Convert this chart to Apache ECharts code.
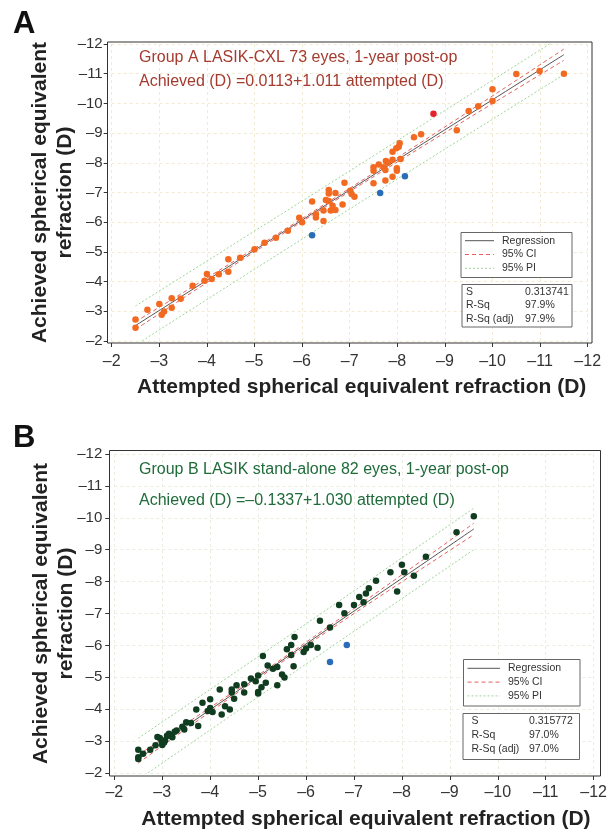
<!DOCTYPE html>
<html><head><meta charset="utf-8">
<script src="https://cdn.jsdelivr.net/npm/echarts@6/dist/echarts.min.js"></script>
<style>html,body{margin:0;padding:0;background:#fff}#c{width:610px;height:831px}</style>
</head><body><div id="c"></div>
<script>
// ---------- DATA ----------
const tickValues = [-2,-3,-4,-5,-6,-7,-8,-9,-10,-11,-12];

// Panel A (LASIK-CXL)
const A_main = [[-2.50,-2.72],[-2.50,-2.45],[-2.75,-3.05],[-3.00,-3.25],[-3.05,-2.88],[-3.10,-2.99],
 [-3.26,-3.44],[-3.26,-3.12],[-3.45,-3.42],[-3.70,-3.86],[-3.95,-4.03],[-4.00,-4.26],[-4.10,-4.09],
 [-4.25,-4.25],[-4.45,-4.75],[-4.45,-4.33],[-4.70,-4.80],[-5.00,-5.09],[-5.21,-5.31],[-5.45,-5.48],
 [-5.70,-5.71],[-5.94,-6.15],[-6.00,-6.00],[-6.21,-6.70],[-6.29,-6.27],[-6.29,-6.16],[-6.45,-6.39],
 [-6.45,-6.04],[-6.56,-7.08],[-6.56,-6.97],[-6.56,-6.71],[-6.60,-6.39],[-6.64,-6.55],[-6.70,-6.98],
 [-6.70,-6.41],[-6.89,-7.33],[-7.01,-7.06],[-7.04,-6.95],[-7.10,-6.86],[-6.85,-6.60],[-7.50,-7.85],
 [-7.50,-7.73],[-7.50,-7.31],[-7.61,-7.94],[-7.71,-7.85],[-7.75,-7.76],[-7.76,-8.06],[-7.80,-8.00],
 [-7.75,-7.40],[-7.90,-8.10],[-7.90,-8.37],[-7.90,-7.53],[-7.99,-7.82],[-7.99,-7.73],[-7.98,-8.49],
 [-8.03,-8.54],[-8.05,-8.66],[-8.07,-8.13],[-8.35,-8.86],[-8.50,-8.96],[-9.25,-9.10],[-9.50,-9.74],
 [-9.70,-9.90],[-10.00,-10.08],[-10.00,-10.48],[-10.50,-10.99],[-10.99,-11.09],[-11.50,-11.00],
 [-6.50,-6.75]];
const A_red  = [[-8.76,-9.65]];
const A_blue = [[-6.21,-5.56],[-7.64,-6.98],[-8.16,-7.55]];
const A_reg  = [[-2.5,-2.52],[-6.5,-6.58],[-11.5,-11.64]];
const A_ciHi = [[-2.5,-2.65],[-6.5,-6.63],[-11.5,-11.83]];
const A_ciLo = [[-2.5,-2.39],[-6.5,-6.53],[-11.5,-11.45]];
const A_piHi = [[-2.5,-3.18],[-6.5,-7.22],[-11.5,-12.31]];
const A_piLo = [[-2.5,-1.86],[-6.5,-5.94],[-11.5,-10.97]];
const A_text = ['Group A LASIK-CXL 73 eyes, 1-year post-op','Achieved (D) =0.0113+1.011 attempted (D)'];
const A_stats = [['S','0.313741'],['R-Sq','97.9%'],['R-Sq (adj)','97.9%']];

// Panel B (LASIK stand-alone)
const B_main = [[-2.50,-2.73],[-2.50,-2.49],[-2.50,-2.44],[-2.60,-2.60],[-2.75,-2.73],[-2.86,-2.87],
 [-2.90,-3.13],[-2.95,-3.10],[-2.99,-2.99],[-3.00,-2.88],[-3.04,-2.96],[-3.06,-3.03],[-3.10,-3.17],
 [-3.14,-3.23],[-3.17,-3.17],[-3.21,-3.12],[-3.26,-3.29],[-3.30,-3.33],[-3.42,-3.45],[-3.46,-3.36],
 [-3.50,-3.59],[-3.60,-3.57],[-3.71,-3.99],[-3.75,-3.47],[-3.84,-4.20],[-3.95,-3.94],[-4.00,-4.31],
 [-4.00,-4.04],[-4.05,-3.91],[-4.20,-4.62],[-4.24,-3.83],[-4.31,-4.09],[-4.41,-3.99],[-4.45,-4.62],
 [-4.45,-4.52],[-4.50,-4.33],[-4.55,-4.75],[-4.71,-4.78],[-4.71,-4.52],[-4.85,-4.96],[-4.95,-4.88],
 [-5.00,-5.06],[-5.00,-4.54],[-5.00,-4.49],[-5.07,-4.69],[-5.10,-5.67],[-5.16,-4.83],[-5.20,-5.37],
 [-5.31,-5.27],[-5.40,-5.32],[-5.40,-4.75],[-5.50,-5.09],[-5.55,-4.99],[-5.60,-5.88],[-5.69,-6.01],
 [-5.69,-5.70],[-5.74,-5.35],[-5.76,-6.26],[-5.95,-5.79],[-6.00,-5.90],[-6.10,-6.01],[-6.24,-5.93],
 [-6.29,-6.77],[-6.50,-6.56],[-6.69,-7.27],[-6.80,-7.01],[-7.00,-7.27],[-7.11,-7.52],[-7.20,-7.35],
 [-7.25,-7.63],[-7.31,-7.79],[-7.46,-8.03],[-7.76,-8.29],[-7.90,-7.69],[-8.00,-8.53],[-8.05,-8.29],
 [-8.25,-8.18],[-8.50,-8.78],[-9.14,-9.55],[-9.50,-10.05]];
const B_blue = [[-6.50,-5.48],[-6.85,-6.01]];
const B_reg  = [[-2.5,-2.44],[-5.5,-5.53],[-9.5,-9.65]];
const B_ciHi = [[-2.5,-2.57],[-5.5,-5.58],[-9.5,-9.83]];
const B_ciLo = [[-2.5,-2.31],[-5.5,-5.48],[-9.5,-9.47]];
const B_piHi = [[-2.5,-3.09],[-5.5,-6.16],[-9.5,-10.30]];
const B_piLo = [[-2.5,-1.79],[-5.5,-4.90],[-9.5,-9.00]];
const B_text = ['Group B LASIK stand-alone 82 eyes, 1-year post-op','Achieved (D) =\u20130.1337+1.030 attempted (D)'];
const B_stats = [['S','0.315772'],['R-Sq','97.0%'],['R-Sq (adj)','97.0%']];

const legendNames = ['Regression','95% CI','95% PI'];
const xTitle = 'Attempted spherical equivalent refraction (D)';
const yTitle = 'Achieved spherical equivalent\nrefraction (D)';

// ---------- STYLE ----------
const FONT = '"Liberation Sans", Arial, sans-serif';
const fmt = v => (v < 0 ? '\u2013' + Math.abs(v) : String(v));
const C = { orange:'#f26a21', red:'#e3222b', blue:'#2b6cb8', green:'#103d20',
  reg:'#555555', ci:'#e8605c', pi:'#9fd49a', axis:'#333333' };

function mainX(grid, off, gridColor, gap, lblMargin) {
  return { type:'value', gridIndex:grid, position:'bottom', inverse:true, min:-12, max:-2, interval:1,
    offset:off, axisLine:{show:false,onZero:false},
    axisTick:{show:true,length:4,lineStyle:{color:C.axis}},
    axisLabel:{color:'#333',fontSize:16,fontFamily:FONT,margin:lblMargin,formatter:fmt},
    splitLine:{show:true,lineStyle:{color:gridColor,type:[3,3],width:1}},
    name:xTitle, nameLocation:'middle', nameGap:gap,
    nameTextStyle:{fontSize:21,fontWeight:'bold',color:'#222',fontFamily:FONT,padding:[0,0,0,24]} };
}
function mainY(grid, off, gridColor, gap, lblMargin) {
  return { type:'value', gridIndex:grid, position:'left', inverse:true, min:-12, max:-2, interval:1,
    offset:off, axisLine:{show:false,onZero:false},
    axisTick:{show:true,length:4,lineStyle:{color:C.axis}},
    axisLabel:{color:'#333',fontSize:15,fontFamily:FONT,margin:lblMargin,formatter:fmt},
    splitLine:{show:true,lineStyle:{color:gridColor,type:[3,3],width:1}},
    name:yTitle, nameLocation:'middle', nameGap:gap, nameMoveOverlap:false,
    nameTextStyle:{fontSize:21,fontWeight:'bold',color:'#222',fontFamily:FONT,lineHeight:25,align:'center'} };
}
function lineS(data, xi, yi, color, type, w) {
  return { type:'line', data, xAxisIndex:xi, yAxisIndex:yi, showSymbol:false, symbol:'none',
    smooth:true, silent:true, z:1, lineStyle:{color, type, width:w}, clip:true };
}
function scat(data, xi, yi, color) {
  return { type:'scatter', data, xAxisIndex:xi, yAxisIndex:yi, symbolSize:6.5, z:3,
    itemStyle:{color, opacity:1}, silent:true };
}
function legendGraphics(o, stats) {
  const els = [];
  els.push({type:'rect', shape:{x:o.bx,y:o.by,width:o.bw,height:o.bh}, style:{fill:'#fff',stroke:'#666',lineWidth:1}, z:10});
  const styles = [[C.reg,null],[C.ci,[4,3]],[C.pi,[2,2]]];
  legendNames.forEach((n,i)=>{
    const y = o.row0 + i*o.rowH;
    els.push({type:'line', shape:{x1:o.bx+4,y1:y,x2:o.textX-8,y2:y},
      style:{stroke:styles[i][0],lineWidth:1,lineDash:styles[i][1]}, z:11});
    els.push({type:'text', x:o.textX, y:y, style:{text:n, fill:'#333', font:'10.5px '+FONT, verticalAlign:'middle'}, z:11});
  });
  els.push({type:'rect', shape:{x:o.sx,y:o.sy,width:o.sw,height:o.sh}, style:{fill:'#fff',stroke:'#666',lineWidth:1}, z:10});
  stats.forEach((r,i)=>{
    const y = o.statTop + i*o.statH;
    els.push({type:'text', x:o.sLeft, y:y, style:{text:r[0], fill:'#333', font:'10.5px '+FONT, verticalAlign:'middle'}, z:11});
    els.push({type:'text', x:o.valX, y:y, style:{text:r[1], fill:'#333', font:'10.5px '+FONT, verticalAlign:'middle'}, z:11});
  });
  return els;
}

const chart = echarts.init(document.getElementById('c'), null, {renderer:'canvas', devicePixelRatio:1});
const graphics = [
  {type:'rect', shape:{x:107.5,y:42,width:484.5,height:301}, style:{fill:null,stroke:'#333',lineWidth:1}, z:5, silent:true},
  {type:'rect', shape:{x:109.5,y:450.5,width:491,height:325.5}, style:{fill:null,stroke:'#333',lineWidth:1}, z:5, silent:true},
  {type:'text', x:13, y:24, style:{text:'A', fill:'#111', font:'bold 31px '+FONT, verticalAlign:'middle'}},
  {type:'text', x:13, y:438, style:{text:'B', fill:'#111', font:'bold 31px '+FONT, verticalAlign:'middle'}},
  {type:'text', x:139, y:58, style:{text:A_text[0], fill:'#a53b2f', font:'16px '+FONT, verticalAlign:'middle'}, z:12},
  {type:'text', x:139, y:82, style:{text:A_text[1], fill:'#a53b2f', font:'16px '+FONT, verticalAlign:'middle'}, z:12},
  {type:'text', x:139, y:470, style:{text:B_text[0], fill:'#1f6b3a', font:'16px '+FONT, verticalAlign:'middle'}, z:12},
  {type:'text', x:139, y:501, style:{text:B_text[1], fill:'#1f6b3a', font:'16px '+FONT, verticalAlign:'middle'}, z:12}
].concat(
  legendGraphics({bx:461,by:232.5,bw:111,bh:45,sx:462,sy:284.5,sw:110,sh:42.5,textX:502,row0:240.7,rowH:13.8,
    statTop:291.7,statH:13.8,valX:525,sLeft:466}, A_stats),
  legendGraphics({bx:463.5,by:659.5,bw:116.5,bh:46.5,sx:463,sy:713.5,sw:116.5,sh:46,textX:508,row0:668.3,rowH:13.8,
    statTop:721,statH:14.2,valX:529,sLeft:471.5}, B_stats)
);

chart.setOption({
  animation:false,
  backgroundColor:'#fff',
  grid:[
    {left:111.7, top:44, width:476, height:297, containLabel:false},
    {left:114.3, top:454, width:483, height:319.3, containLabel:false}
  ],
  xAxis:[
    mainX(0, 2, '#f3ead2', 34, 11),
    mainX(1, 3, '#e8eedf', 33, 9)
  ],
  yAxis:[
    mainY(0, 4, '#f3ead2', 30, 5),
    mainY(1, 5, '#e8eedf', 31, 7)
  ],
  series:[
    lineS(A_piHi,0,0,C.pi,[2,2],1), lineS(A_piLo,0,0,C.pi,[2,2],1),
    lineS(A_ciHi,0,0,C.ci,[4,3],1), lineS(A_ciLo,0,0,C.ci,[4,3],1),
    lineS(A_reg,0,0,C.reg,'solid',1),
    scat(A_main,0,0,C.orange), scat(A_red,0,0,C.red), scat(A_blue,0,0,C.blue),
    lineS(B_piHi,1,1,C.pi,[2,2],1), lineS(B_piLo,1,1,C.pi,[2,2],1),
    lineS(B_ciHi,1,1,C.ci,[4,3],1), lineS(B_ciLo,1,1,C.ci,[4,3],1),
    lineS(B_reg,1,1,C.reg,'solid',1),
    scat(B_main,1,1,C.green), scat(B_blue,1,1,C.blue)
  ],
  graphic: graphics
});
</script></body></html>
